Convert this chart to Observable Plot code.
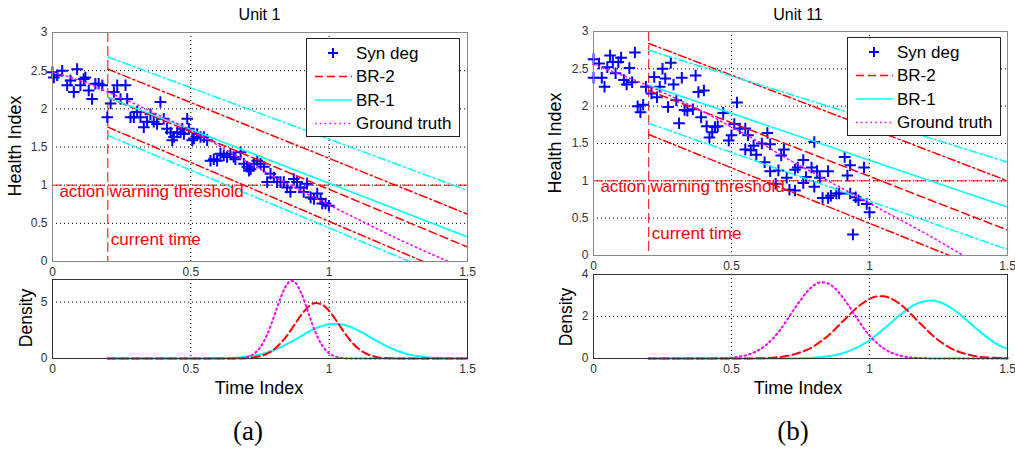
<!DOCTYPE html>
<html><head><meta charset="utf-8">
<script src="https://cdn.jsdelivr.net/npm/d3@7"></script>
<script src="https://cdn.jsdelivr.net/npm/@observablehq/plot@0.6"></script>
<style>
body{margin:0;background:#fff;}
#fig{position:relative;width:1015px;height:453px;overflow:hidden;background:#fff;font-family:"Liberation Sans",Arial,Helvetica,sans-serif;}
#fig > svg, #fig > div{position:absolute;}
.lbl{position:absolute;transform:translate(-50%,-50%);white-space:nowrap;color:#000;line-height:1;}
.rot{transform:translate(-50%,-50%) rotate(-90deg);}
.cap{font-family:"Liberation Serif","Times New Roman",Times,serif;font-size:27px;}
</style></head><body><div id="fig"></div>
<script>
// ---------- data ----------
const timeTicks = [0, 0.5, 1, 1.5];
const healthTicks = [0, 0.5, 1, 1.5, 2, 2.5, 3];
const u1DensityTicks = [0, 5];
const u11DensityTicks = [0, 2, 4];
const currentTime = 0.2;
const threshold = 1;
const legendLabels = ["Syn deg", "BR-2", "BR-1", "Ground truth"];

const u1Syn = [[0.00,2.48],[0.005,2.41],[0.017,2.44],[0.035,2.50],[0.053,2.31],[0.065,2.37],[0.077,2.22],[0.089,2.52],[0.101,2.31],[0.113,2.39],[0.119,2.41],[0.131,2.24],[0.143,2.13],[0.155,2.33],[0.167,2.33],[0.180,2.31],[0.198,1.89],[0.210,2.07],[0.222,2.22],[0.234,2.31],[0.246,2.13],[0.264,2.31],[0.270,2.13],[0.282,1.89],[0.294,1.89],[0.306,1.96],[0.318,1.89],[0.330,1.76],[0.342,1.83],[0.354,1.93],[0.366,1.83],[0.378,1.80],[0.390,2.09],[0.402,1.87],[0.414,1.74],[0.427,1.69],[0.433,1.59],[0.439,1.63],[0.451,1.69],[0.463,1.69],[0.469,1.74],[0.475,1.67],[0.487,1.87],[0.493,1.74],[0.505,1.59],[0.511,1.61],[0.523,1.67],[0.535,1.63],[0.547,1.63],[0.559,1.59],[0.571,1.32],[0.583,1.34],[0.595,1.32],[0.607,1.41],[0.619,1.39],[0.631,1.37],[0.643,1.41],[0.655,1.37],[0.661,1.34],[0.680,1.43],[0.692,1.28],[0.704,1.24],[0.710,1.19],[0.716,1.21],[0.728,1.28],[0.740,1.32],[0.752,1.28],[0.764,1.24],[0.776,1.04],[0.788,1.15],[0.800,1.10],[0.812,1.04],[0.824,1.04],[0.836,1.04],[0.848,0.97],[0.860,0.91],[0.872,1.08],[0.884,1.04],[0.896,0.97],[0.908,0.91],[0.920,1.02],[0.933,0.84],[0.945,0.82],[0.957,0.89],[0.969,0.82],[0.975,0.76],[0.987,0.76],[0.999,0.73]];
const u1Truth = [[0,2.48],[0.1,2.37],[0.2,2.22],[0.3,2.06],[0.4,1.89],[0.5,1.72],[0.6,1.52],[0.7,1.31],[0.8,1.11],[0.9,0.92],[1.0,0.74],[1.1,0.56],[1.2,0.38],[1.3,0.21],[1.43,0]];
const u1Br2Mean = [[0.2,2.15],[1.5,0.19]];
const u1Br2Upper = [[0.2,2.52],[1.5,0.62]];
const u1Br2Lower = [[0.2,1.76],[1.34,0]];
const u1Br1Mean = [[0.2,2.15],[1.5,0.32]];
const u1Br1Upper = [[0.2,2.68],[1.5,0.93]];
const u1Br1Lower = [[0.2,1.65],[1.29,0]];

const u11Syn = [[0.00,2.63],[0.02,2.57],[0.00,2.38],[0.03,2.38],[0.04,2.26],[0.05,2.52],[0.06,2.68],[0.07,2.59],[0.08,2.44],[0.09,2.59],[0.10,2.65],[0.11,2.35],[0.12,2.29],[0.13,2.51],[0.14,2.32],[0.15,2.72],[0.16,2.00],[0.17,1.92],[0.18,2.02],[0.19,2.26],[0.21,2.17],[0.22,2.39],[0.23,2.12],[0.24,2.26],[0.25,2.50],[0.26,2.37],[0.28,2.58],[0.27,1.99],[0.29,2.29],[0.30,2.08],[0.31,1.77],[0.32,2.38],[0.33,1.95],[0.34,1.94],[0.36,1.96],[0.37,2.41],[0.38,2.19],[0.40,2.21],[0.39,1.85],[0.41,1.73],[0.42,1.58],[0.43,1.65],[0.44,1.72],[0.45,1.73],[0.47,1.91],[0.49,1.54],[0.50,1.61],[0.51,1.76],[0.52,2.05],[0.53,1.70],[0.55,1.70],[0.56,1.61],[0.55,1.42],[0.57,1.41],[0.58,1.47],[0.59,1.35],[0.61,1.50],[0.62,1.25],[0.63,1.64],[0.64,1.49],[0.64,1.13],[0.66,0.96],[0.67,1.14],[0.68,1.34],[0.69,1.42],[0.70,1.04],[0.71,0.88],[0.73,1.15],[0.73,0.87],[0.74,1.18],[0.76,0.97],[0.76,1.28],[0.77,1.05],[0.79,1.18],[0.80,0.92],[0.80,1.52],[0.81,1.13],[0.82,1.04],[0.83,0.77],[0.85,1.13],[0.85,0.77],[0.86,0.80],[0.88,0.83],[0.89,0.83],[0.91,1.32],[0.92,1.07],[0.93,1.21],[0.94,0.28],[0.93,0.83],[0.95,0.78],[0.96,0.74],[0.98,1.18],[0.99,0.69],[1.00,0.58]];
const u11Truth = [[0,2.56],[0.1,2.42],[0.2,2.27],[0.3,2.1],[0.4,1.92],[0.5,1.72],[0.6,1.52],[0.7,1.3],[0.8,1.1],[0.9,0.9],[1.0,0.7],[1.1,0.5],[1.2,0.3],[1.34,0]];
const u11Br2Mean = [[0.2,2.21],[1.5,0.34]];
const u11Br2Upper = [[0.2,2.84],[1.5,1.0]];
const u11Br2Lower = [[0.2,1.62],[1.29,0]];
const u11Br1Mean = [[0.2,2.28],[1.5,0.65]];
const u11Br1Upper = [[0.2,2.75],[1.5,1.25]];
const u11Br1Lower = [[0.2,1.77],[1.5,0.08]];

const u1DensTruth = [[0.2,0],[0.65,0],[0.675,0.03],[0.7,0.12],[0.725,0.37],[0.75,0.97],[0.775,2.07],[0.8,3.67],[0.825,5.42],[0.85,6.65],[0.865,6.88],[0.875,6.78],[0.9,5.75],[0.925,4.03],[0.95,2.35],[0.975,1.14],[1.0,0.46],[1.025,0.15],[1.05,0.04],[1.075,0],[1.5,0]];
const u1DensBr2 = [[0.2,0],[0.675,0],[0.7,0.03],[0.725,0.09],[0.75,0.2],[0.775,0.42],[0.8,0.79],[0.825,1.37],[0.85,2.11],[0.875,3.01],[0.9,3.9],[0.925,4.59],[0.95,4.91],[0.975,4.77],[1.0,4.22],[1.025,3.39],[1.05,2.47],[1.075,1.64],[1.1,0.99],[1.125,0.54],[1.15,0.27],[1.175,0.12],[1.2,0.05],[1.225,0.02],[1.25,0],[1.5,0]];
const u1DensBr1 = [[0.2,0],[0.55,0],[0.6,0.02],[0.65,0.05],[0.7,0.15],[0.725,0.24],[0.75,0.35],[0.775,0.52],[0.8,0.73],[0.825,1.0],[0.85,1.31],[0.875,1.65],[0.9,2.0],[0.925,2.35],[0.95,2.66],[0.975,2.89],[1.0,3.04],[1.025,3.07],[1.05,2.99],[1.075,2.81],[1.1,2.54],[1.125,2.22],[1.15,1.86],[1.175,1.51],[1.2,1.18],[1.225,0.89],[1.25,0.64],[1.275,0.45],[1.3,0.3],[1.325,0.19],[1.35,0.12],[1.375,0.07],[1.4,0.04],[1.425,0.02],[1.45,0.01],[1.5,0]];

const u11DensTruth = [[0.2,0],[0.4,0],[0.45,0.01],[0.475,0.02],[0.5,0.04],[0.525,0.08],[0.55,0.14],[0.575,0.25],[0.6,0.41],[0.625,0.64],[0.65,0.95],[0.675,1.34],[0.7,1.81],[0.725,2.31],[0.75,2.78],[0.775,3.2],[0.8,3.5],[0.825,3.63],[0.85,3.57],[0.875,3.34],[0.9,2.96],[0.925,2.51],[0.95,2.0],[0.975,1.52],[1.0,1.09],[1.025,0.76],[1.05,0.49],[1.075,0.3],[1.1,0.18],[1.125,0.1],[1.15,0.05],[1.175,0.03],[1.2,0.01],[1.25,0],[1.5,0]];
const u11DensBr2 = [[0.2,0],[0.55,0],[0.6,0.01],[0.625,0.02],[0.65,0.04],[0.675,0.07],[0.7,0.12],[0.725,0.19],[0.75,0.29],[0.775,0.42],[0.8,0.6],[0.825,0.83],[0.85,1.08],[0.875,1.39],[0.9,1.73],[0.925,2.05],[0.95,2.37],[0.975,2.63],[1.0,2.84],[1.025,2.95],[1.05,2.96],[1.075,2.87],[1.1,2.69],[1.125,2.44],[1.15,2.12],[1.175,1.78],[1.2,1.46],[1.225,1.14],[1.25,0.87],[1.275,0.64],[1.3,0.45],[1.325,0.31],[1.35,0.21],[1.375,0.13],[1.4,0.08],[1.425,0.05],[1.45,0.03],[1.475,0.02],[1.5,0.01]];
const u11DensBr1 = [[0.2,0],[0.7,0],[0.75,0.01],[0.8,0.04],[0.825,0.07],[0.85,0.11],[0.875,0.16],[0.9,0.24],[0.925,0.35],[0.95,0.49],[0.975,0.66],[1.0,0.87],[1.025,1.12],[1.05,1.39],[1.075,1.67],[1.1,1.96],[1.125,2.22],[1.15,2.46],[1.175,2.63],[1.2,2.73],[1.225,2.76],[1.25,2.7],[1.275,2.57],[1.3,2.37],[1.325,2.13],[1.35,1.84],[1.375,1.56],[1.4,1.28],[1.425,1.02],[1.45,0.78],[1.475,0.59],[1.5,0.45]];

// ---------- styles ----------
const RED = "#ff0000", CYAN = "#00ffff", MAG = "#ff00ff", BLUE = "#0000ff";
const DASH = "8,4", DASHDOT = "8,3,2,3", DOT = "1.6,3.2", GRID = "1,3";
const FONT = '"Liberation Sans", Arial, Helvetica, sans-serif';
const fmt = v => String(v);
const fig = document.getElementById("fig");

function place(el, left, top) { el.style.left = left + "px"; el.style.top = top + "px"; fig.appendChild(el); }

function topPanel(d) {
  return Plot.plot({
    width: d.width, height: d.height,
    marginLeft: d.ml, marginRight: d.mr, marginTop: d.mt, marginBottom: d.mb,
    x: {domain: [0, 1.5]}, y: {domain: [0, 3]},
    style: {fontFamily: FONT, fontSize: "12px", color: "#333", background: "transparent", overflow: "visible"},
    marks: [
      Plot.gridX(timeTicks.slice(1, -1), {stroke: "#000", strokeOpacity: 1, strokeDasharray: GRID}),
      Plot.gridY(healthTicks.slice(1, -1), {stroke: "#000", strokeOpacity: 1, strokeDasharray: GRID}),
      Plot.ruleY([threshold], {stroke: RED, strokeWidth: 1, strokeDasharray: "10,4"}),
      Plot.ruleX([currentTime], {stroke: RED, strokeWidth: 1, strokeDasharray: "10,4"}),
      Plot.dot(d.syn, {symbol: "plus", r: 3.8, stroke: BLUE, strokeWidth: 2}),
      Plot.line(d.br2Up, {stroke: RED, strokeWidth: 1.5, strokeDasharray: DASHDOT}),
      Plot.line(d.br2Lo, {stroke: RED, strokeWidth: 1.5, strokeDasharray: DASHDOT}),
      Plot.line(d.br2Mean, {stroke: RED, strokeWidth: 1.5, strokeDasharray: DASH}),
      Plot.line(d.br1Up, {stroke: CYAN, strokeWidth: 1.5, strokeDasharray: DASHDOT}),
      Plot.line(d.br1Lo, {stroke: CYAN, strokeWidth: 1.5, strokeDasharray: DASHDOT}),
      Plot.line(d.br1Mean, {stroke: CYAN, strokeWidth: 1.5}),
      Plot.line(d.truth, {stroke: MAG, strokeWidth: 1.5, strokeDasharray: DOT, curve: "monotone-x"}),
      Plot.text(["action warning threshold"], {x: 0.025, y: threshold, dy: 6, text: t => t, textAnchor: "start", fill: RED, fontSize: 17}),
      Plot.text(["current time"], {x: currentTime, y: d.curY, dx: 3, text: t => t, textAnchor: "start", fill: RED, fontSize: 17}),
      Plot.frame({stroke: "#888"}),
      Plot.axisX(timeTicks, {tickSize: 0, tickPadding: 6, label: null, tickFormat: fmt}),
      Plot.axisY(healthTicks, {tickSize: 0, tickPadding: 5, label: null, tickFormat: fmt})
    ]
  });
}

function densPanel(d) {
  return Plot.plot({
    width: d.width, height: d.height,
    marginLeft: d.ml, marginRight: d.mr, marginTop: d.mt, marginBottom: d.mb,
    x: {domain: [0, 1.5]}, y: {domain: d.ydomain},
    style: {fontFamily: FONT, fontSize: "12px", color: "#333", background: "transparent", overflow: "visible"},
    marks: [
      Plot.gridX(timeTicks.slice(1, -1), {stroke: "#000", strokeOpacity: 1, strokeDasharray: GRID}),
      Plot.gridY(d.yticks.filter(v => v > 0 && v < d.ydomain[1]), {stroke: "#000", strokeOpacity: 1, strokeDasharray: GRID}),
      Plot.line(d.br1, {stroke: CYAN, strokeWidth: 2, curve: "monotone-x"}),
      Plot.line(d.br2, {stroke: RED, strokeWidth: 2, strokeDasharray: DASH, curve: "monotone-x"}),
      Plot.line(d.truth, {stroke: MAG, strokeWidth: 2, strokeDasharray: DOT, curve: "monotone-x"}),
      Plot.frame({stroke: "#333"}),
      Plot.axisX(timeTicks, {tickSize: 0, tickPadding: 6, label: null, tickFormat: fmt}),
      Plot.axisY(d.yticks, {tickSize: 0, tickPadding: 5, label: null, tickFormat: fmt})
    ]
  });
}

function legend(left, top) {
  const w = 154, h = 99;
  const svg = d3.create("svg").attr("width", w).attr("height", h)
    .style("font-family", FONT).style("font-size", "17px");
  svg.append("rect").attr("x", 0.5).attr("y", 0.5).attr("width", w - 1).attr("height", h - 1)
    .attr("fill", "#fff").attr("stroke", "#222");
  const rows = [15, 38.5, 62, 85.5];
  const styles = [null, {s: RED, d: DASH}, {s: CYAN, d: null}, {s: MAG, d: DOT}];
  legendLabels.forEach((lab, i) => {
    const y = rows[i];
    if (i === 0) {
      svg.append("path").attr("d", `M${27 - 5},${y}h10M27,${y - 5}v10`).attr("stroke", BLUE).attr("stroke-width", 2);
    } else {
      svg.append("line").attr("x1", 9).attr("x2", 46).attr("y1", y).attr("y2", y)
        .attr("stroke", styles[i].s).attr("stroke-width", 1.5).attr("stroke-dasharray", styles[i].d);
    }
    svg.append("text").attr("x", 50).attr("y", y).attr("dy", "0.35em").attr("fill", "#000").text(lab);
  });
  place(svg.node(), left, top);
}

function label(text, x, y, size, cls) {
  const el = document.createElement("div");
  el.className = "lbl" + (cls ? " " + cls : "");
  el.textContent = text;
  el.style.fontSize = size + "px";
  el.style.left = x + "px"; el.style.top = y + "px";
  fig.appendChild(el);
}

// ---------- panels ----------
place(topPanel({width: 480, height: 280, ml: 52, mr: 13, mt: 32, mb: 19, syn: u1Syn, truth: u1Truth,
  br2Mean: u1Br2Mean, br2Up: u1Br2Upper, br2Lo: u1Br2Lower, br1Mean: u1Br1Mean, br1Up: u1Br1Upper, br1Lo: u1Br1Lower, curY: 0.29}), 0, 0);
place(topPanel({width: 485, height: 280, ml: 63, mr: 8, mt: 31, mb: 25, syn: u11Syn, truth: u11Truth,
  br2Mean: u11Br2Mean, br2Up: u11Br2Upper, br2Lo: u11Br2Lower, br1Mean: u11Br1Mean, br1Up: u11Br1Upper, br1Lo: u11Br1Lower, curY: 0.295}), 530, 0);
place(densPanel({width: 480, height: 110, ml: 52, mr: 13, mt: 14, mb: 17, ydomain: [0, 7], yticks: u1DensityTicks,
  br1: u1DensBr1, br2: u1DensBr2, truth: u1DensTruth}), 0, 265);
place(densPanel({width: 485, height: 110, ml: 63, mr: 8, mt: 9, mb: 17, ydomain: [0, 4], yticks: u11DensityTicks,
  br1: u11DensBr1, br2: u11DensBr2, truth: u11DensTruth}), 530, 265);

legend(306, 38);
legend(847, 37);

label("Unit 1", 259.5, 15, 16);
label("Unit 11", 798, 15, 16);
label("Health Index", 15, 146, 18, "rot");
label("Health Index", 555, 143, 18, "rot");
label("Density", 27, 318, 17.5, "rot");
label("Density", 567, 317, 17.5, "rot");
label("Time Index", 259, 388, 18);
label("Time Index", 798, 388, 18);
label("(a)", 248, 431, 27, "cap");
label("(b)", 793, 431, 27, "cap");
</script></body></html>
